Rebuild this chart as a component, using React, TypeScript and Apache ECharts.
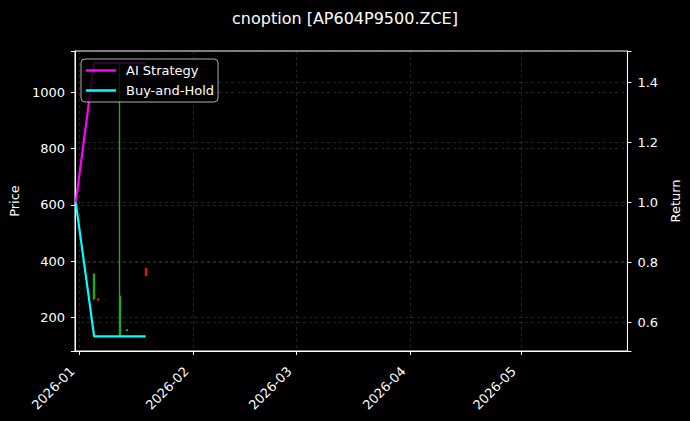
import React, { useEffect, useRef } from 'react';
import * as echarts from 'echarts';

// returns (AI Strategy / Buy-and-Hold), right axis
const lineDates = ['2025-12-31', '2026-01-05', '2026-01-06', '2026-01-12', '2026-01-14', '2026-01-19'];
const aiStrategy = [1.0, 1.464, 1.464, 1.464, 1.464, 1.464];
const buyAndHold = [1.0, 0.554, 0.554, 0.554, 0.554, 0.554];

// daily candles, left axis: open, close, low, high
const candleDates = ['2026-01-05', '2026-01-06', '2026-01-12', '2026-01-14', '2026-01-19'];
const candleOpen = [268, 266, 135, 154, 374];
const candleClose = [352, 262, 275, 156, 350];
const candleLow = [262, 262, 133, 154, 350];
const candleHigh = [357, 266, 1100, 156, 374];

const GRID = 'rgba(140,140,140,0.45)';
const FONT = 'DejaVu Sans';
const UP = '#22a822';
const DOWN = '#e01515';
// 30px line plus an empty tail so the label sits 10px after the line
const LEGEND_ICON = 'path://M0,0L30,0L30,2.5L0,2.5Z M35,1L35,1.5Z';

const App: React.FC = () => {
  const chartRef = useRef<HTMLDivElement>(null);

  useEffect(() => {
    if (!chartRef.current) return;
    document.body.style.margin = '0';
    document.body.style.background = '#000';
    const chart = echarts.init(chartRef.current, null, { renderer: 'svg' });

    const candles = candleDates.map((d, i) => [d, candleOpen[i], candleClose[i], candleLow[i], candleHigh[i]]);

    chart.setOption({
      animation: false,
      backgroundColor: '#000',
      textStyle: { fontFamily: FONT, color: '#fff' },
      title: {
        text: 'cnoption [AP604P9500.ZCE]',
        left: 'center',
        top: 10,
        padding: 0,
        textStyle: { color: '#fff', fontSize: 16, fontWeight: 'normal', fontFamily: FONT },
      },
      legend: {
        left: 81,
        top: 59,
        orient: 'vertical',
        padding: [5, 4, 5, 5],
        itemWidth: 35,
        itemHeight: 14,
        itemGap: 7,
        backgroundColor: 'rgba(0,0,0,0.8)',
        borderColor: 'rgba(204,204,204,0.85)',
        borderWidth: 1,
        borderRadius: 4,
        textStyle: { color: '#fff', fontSize: 13, fontFamily: FONT },
        data: [
          { name: 'AI Strategy', icon: LEGEND_ICON, itemStyle: { color: '#ff00ff' } },
          { name: 'Buy-and-Hold', icon: LEGEND_ICON, itemStyle: { color: '#00ffff' } },
        ],
      },
      grid: {
        left: 74,
        right: 61,
        top: 51,
        bottom: 70,
        show: true,
        borderColor: '#fff',
        borderWidth: 1,
        backgroundColor: 'transparent',
      },
      xAxis: {
        type: 'time',
        min: '2025-12-30 19:00',
        max: '2026-05-30 00:00',
        splitNumber: 5,
        axisLine: { lineStyle: { color: '#fff', width: 1 } },
        axisTick: { show: true, length: 4, lineStyle: { color: '#fff' } },
        splitLine: { show: true, lineStyle: { color: GRID, type: [3, 3], width: 0.6 } },
        axisLabel: {
          rotate: 45,
          margin: 11,
          padding: [0, 10, 0, 0],
          color: '#fff',
          fontSize: 13,
          fontFamily: FONT,
          hideOverlap: false,
          formatter: (v: number) => {
            const d = new Date(v);
            if (d.getDate() !== 1 || d.getHours() !== 0) return '';
            return `${d.getFullYear()}-${String(d.getMonth() + 1).padStart(2, '0')}`;
          },
        },
      },
      yAxis: [
        {
          type: 'value',
          min: 81,
          max: 1147,
          splitNumber: 5,
          name: 'Price',
          nameLocation: 'middle',
          nameGap: 49,
          nameTextStyle: { color: '#fff', fontSize: 13, fontFamily: FONT },
          axisLine: { show: true, lineStyle: { color: '#fff', width: 1 } },
          axisTick: { show: true, length: 4, lineStyle: { color: '#fff' } },
          splitLine: { show: true, lineStyle: { color: GRID, type: [3, 3], width: 0.6 } },
          axisLabel: {
            margin: 10,
            color: '#fff',
            fontSize: 13,
            fontFamily: FONT,
            formatter: (v: number) => (Math.abs(v % 200) < 1e-6 ? String(v) : ''),
          },
        },
        {
          type: 'value',
          min: 0.505,
          max: 1.504,
          splitNumber: 5,
          name: 'Return',
          nameLocation: 'middle',
          nameGap: 35,
          nameRotate: 90,
          nameTextStyle: { color: '#fff', fontSize: 13, fontFamily: FONT },
          axisLine: { show: true, lineStyle: { color: '#fff', width: 1 } },
          axisTick: { show: true, length: 4, lineStyle: { color: '#fff' } },
          splitLine: { show: true, lineStyle: { color: GRID, type: [3, 3], width: 0.6 } },
          axisLabel: {
            margin: 10,
            color: '#fff',
            fontSize: 13,
            fontFamily: FONT,
            formatter: (v: number) => (Math.abs(v * 5 - Math.round(v * 5)) < 1e-6 ? v.toFixed(1) : ''),
          },
        },
      ],
      series: [
        {
          name: 'Price',
          type: 'candlestick',
          yAxisIndex: 0,
          barWidth: 1.5,
          itemStyle: {
            color: UP,
            color0: DOWN,
            borderColor: UP,
            borderColor0: DOWN,
            borderColorDoji: UP,
            borderWidth: 1.4,
          },
          data: candles,
        },
        {
          name: 'AI Strategy',
          type: 'line',
          yAxisIndex: 1,
          showSymbol: false,
          lineStyle: { color: '#ff00ff', width: 2.2 },
          itemStyle: { color: '#ff00ff' },
          data: lineDates.map((d, i) => [d, aiStrategy[i]]),
        },
        {
          name: 'Buy-and-Hold',
          type: 'line',
          yAxisIndex: 1,
          showSymbol: false,
          lineStyle: { color: '#00ffff', width: 2.2 },
          itemStyle: { color: '#00ffff' },
          data: lineDates.map((d, i) => [d, buyAndHold[i]]),
        },
      ],
    });

    return () => {
      chart.dispose();
    };
  }, []);

  return <div ref={chartRef} style={{ width: 690, height: 421 }}></div>;
};

export default App;
